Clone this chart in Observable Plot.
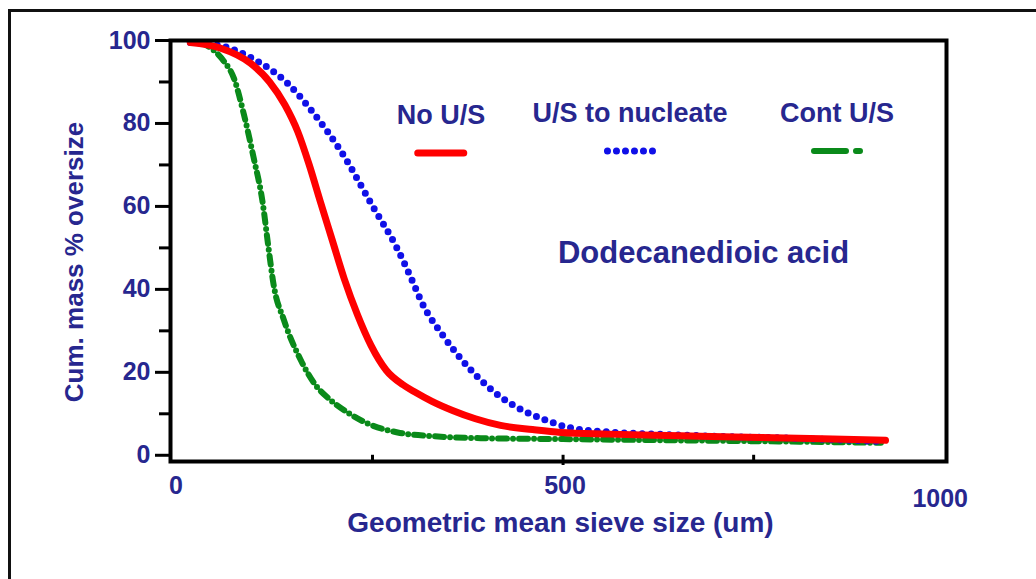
<!DOCTYPE html>
<html>
<head>
<meta charset="utf-8">
<script src="https://cdn.jsdelivr.net/npm/d3@7"></script>
<script src="https://cdn.jsdelivr.net/npm/@observablehq/plot@0.6"></script>
<style>
  html, body { margin: 0; padding: 0; background: #fff; }
  #wrap { position: relative; width: 1036px; height: 579px; overflow: hidden; background: #fff; font-family: "Liberation Sans", Arial, sans-serif; }
  #border { position: absolute; left: 8px; top: 9px; right: -10px; bottom: -10px; border-top: 3px solid #111; border-left: 3px solid #111; }
  #chart { position: absolute; left: 0; top: 0; }
  .leg { position: absolute; text-align: center; color: #27278f; font-weight: bold; font-size: 27px; white-space: nowrap; transform: translateX(-50%); }
  .leg svg { display: block; margin: 17px auto 0 auto; overflow: visible; }
</style>
</head>
<body>
<div id="wrap">
  <div id="border"></div>
  <div id="chart"></div>
</div>
<script>
// ---- data ----
const seriesNames = ["No U/S", "U/S to nucleate", "Cont U/S"];
const seriesColors = ["#ff0000", "#1010e8", "#0a8a1a"];

const noUS_x = [11, 50, 90, 115, 135, 152, 167, 181, 197, 213, 230, 248, 268, 290, 305, 328, 355, 385, 418, 460, 497, 560, 620, 680, 760, 840, 923];
const noUS_y = [99.5, 98.2, 94.5, 90, 84.5, 78, 70, 61.5, 52, 42.5, 34, 26.5, 20.5, 17, 15.3, 13, 10.8, 8.8, 7.2, 6.2, 5.5, 5.1, 4.8, 4.6, 4.3, 4.0, 3.6];

const nucl_x = [11, 50, 90, 139, 173, 208, 251, 282, 300, 317, 340, 365, 390, 415, 440, 470, 510, 560, 620, 700, 800, 920];
const nucl_y = [99.5, 98.8, 95.9, 89.6, 82.4, 73.5, 59.8, 50, 43, 36, 29.5, 23.5, 18.5, 14.5, 11.5, 9, 6.6, 5.6, 5.1, 4.6, 4.1, 3.3];

const cont_x = [25, 37, 55, 68, 81, 94, 105.5, 114, 120, 134, 156, 175, 195, 220, 243, 283, 330, 400, 500, 600, 700, 800, 917];
const cont_y = [99.5, 98.3, 95, 91, 82.4, 71.8, 61.4, 49.4, 41.4, 32.5, 22.9, 17, 13.3, 10, 7.7, 5.5, 4.6, 4.1, 3.9, 3.7, 3.5, 3.3, 3.0];

const yMajorTicks = [0, 20, 40, 60, 80, 100];
const yMinorTicks = [10, 30, 50, 70, 90];
const xFirstTick = [0];
const xMidTick = [500];
const xLastTick = [1000];
const xMinorTicks = [250, 500, 750];

const xTitle = "Geometric mean sieve size (um)";
const yTitle = "Cum. mass % oversize";
const annotation = "Dodecanedioic acid";

// ---- build tables ----
const toRows = (xs, ys, name) => xs.map((x, i) => ({x, y: ys[i], series: name}));
const noUS = toRows(noUS_x, noUS_y, seriesNames[0]);
const nucl = toRows(nucl_x, nucl_y, seriesNames[1]);
const cont = toRows(cont_x, cont_y, seriesNames[2]);

const navy = "#27278f";
const font = "'Liberation Sans', Arial, sans-serif";
const tickText = { tickSize: 0, fontSize: 25, fontWeight: "bold", fill: navy, label: null, tickFormat: d => String(d) };

const chart = Plot.plot({
  width: 1036,
  height: 579,
  marginLeft: 170,
  marginRight: 90,
  marginTop: 40,
  marginBottom: 118,
  style: { fontFamily: font, background: "transparent", overflow: "visible" },
  x: { domain: [-15, 1003], axis: null },
  y: { domain: [-1.5, 100], axis: null },
  marks: [
    // lines
    Plot.line(cont, { x: "x", y: "y", stroke: seriesColors[2], strokeWidth: 6, strokeDasharray: "9 6 0 6", strokeLinecap: "round", curve: "monotone-x" }),
    Plot.line(nucl, { x: "x", y: "y", stroke: seriesColors[1], strokeWidth: 7, strokeDasharray: "0 9", strokeLinecap: "round", curve: "monotone-x" }),
    Plot.line(noUS, { x: "x", y: "y", stroke: seriesColors[0], strokeWidth: 7, strokeLinecap: "round", curve: "monotone-x" }),
    // frame
    Plot.frame({ stroke: "#000", strokeWidth: 4 }),
    // y axis
    Plot.axisY({ ticks: yMajorTicks, tickSize: 15, tickPadding: 5, strokeWidth: 3, stroke: "#000",
      fontSize: 25, fontWeight: "bold", fill: navy, label: null }),
    Plot.axisY({ ticks: yMinorTicks, tickSize: 11, text: null, strokeWidth: 3, stroke: "#000", label: null }),
    // x axis ticks (small, pointing inward) and labels
    Plot.ruleX(xMinorTicks, { x: d => d, y1: -1.5, y2: 0, stroke: "#000", strokeWidth: 3 }),
    Plot.axisX({ ticks: xMidTick, tickSize: 4, text: null, strokeWidth: 3, stroke: "#000", label: null }),
    Plot.axisX({ ticks: xFirstTick, ...tickText, tickPadding: 15, dx: -6 }),
    Plot.axisX({ ticks: xMidTick, ...tickText, tickPadding: 15, dx: 2 }),
    Plot.axisX({ ticks: xLastTick, ...tickText, tickPadding: 28, dx: -4 }),
    // titles
    Plot.text([xTitle], { frameAnchor: "bottom", text: d => d, dx: 2, dy: 62, fontSize: 28, fontWeight: "bold", fill: navy, lineAnchor: "middle", textAnchor: "middle" }),
    Plot.text([yTitle], { frameAnchor: "left", text: d => d, dx: -96, dy: 11, rotate: -90, fontSize: 26, fontWeight: "bold", fill: navy, lineAnchor: "middle", textAnchor: "middle" }),
    Plot.text([annotation], { frameAnchor: "top-left", text: d => d, dx: 533, dy: 213, textAnchor: "middle", lineAnchor: "middle", fontSize: 31, fontWeight: "bold", fill: navy })
  ]
});
document.getElementById("chart").appendChild(chart);

// ---- legend overlay ----
const legendPos = [{left: 441, top: 100}, {left: 630, top: 98}, {left: 837, top: 98}];
const legendDash = [null, "0 9", "32 10 0 1"];
const legendWidths = [7, 7, 6];
const wrap = document.getElementById("wrap");
seriesNames.forEach((name, i) => {
  const div = document.createElement("div");
  div.className = "leg";
  div.style.left = legendPos[i].left + "px";
  div.style.top = legendPos[i].top + "px";
  div.textContent = name;
  const svg = d3.create("svg").attr("width", 52).attr("height", 10);
  svg.append("line").attr("x1", 3).attr("x2", 49).attr("y1", 5).attr("y2", 5)
    .attr("stroke", seriesColors[i]).attr("stroke-width", legendWidths[i])
    .attr("stroke-linecap", "round")
    .attr("stroke-dasharray", legendDash[i]);
  div.appendChild(svg.node());
  wrap.appendChild(div);
});
</script>
</body>
</html>
